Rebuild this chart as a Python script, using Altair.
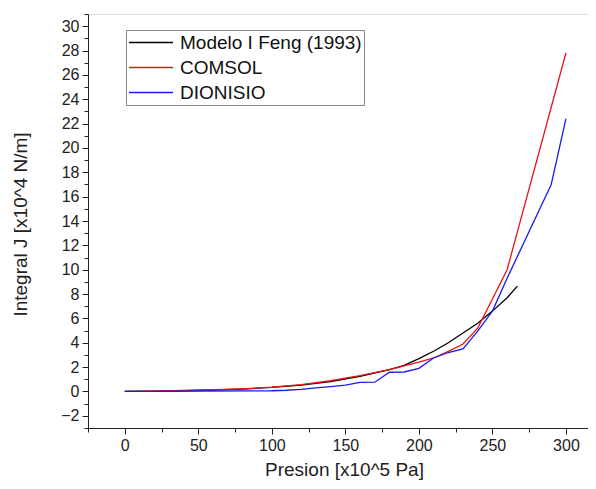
import altair as alt
import pandas as pd

series_names = ["Modelo I Feng (1993)", "COMSOL", "DIONISIO"]
series_colors = ["#000000", "#e8141c", "#1c1ce8"]

feng_x = [0, 20, 40, 60, 80, 100, 120, 140, 160, 180, 190, 200, 210, 220, 230, 240, 250, 260, 267]
feng_y = [0, 0.02, 0.06, 0.12, 0.2, 0.33, 0.52, 0.82, 1.25, 1.8, 2.15, 2.7, 3.3, 4.0, 4.8, 5.6, 6.6, 7.7, 8.65]

comsol_x = [0, 20, 40, 60, 80, 100, 120, 140, 160, 180, 190, 200, 210, 220, 230, 240, 250, 260, 300]
comsol_y = [0, 0.03, 0.08, 0.14, 0.22, 0.35, 0.56, 0.88, 1.3, 1.8, 2.1, 2.4, 2.75, 3.3, 3.9, 5.2, 7.6, 10.0, 27.8]

dion_x = [0, 20, 50, 100, 110, 120, 130, 140, 150, 160, 170, 180, 190, 200, 210, 220, 230, 240, 250, 260, 290, 300]
dion_y = [0, 0.0, 0.04, 0.06, 0.1, 0.18, 0.3, 0.4, 0.52, 0.75, 0.76, 1.58, 1.6, 1.9, 2.75, 3.2, 3.5, 4.95, 6.6, 9.3, 17.0, 22.4]

x_major = [0, 50, 100, 150, 200, 250, 300]
x_minor = [-25, 25, 75, 125, 175, 225, 275]
y_major = list(range(-2, 31, 2))
y_minor = list(range(-3, 32, 2))

rows = []
for name, xs, ys in [(series_names[0], feng_x, feng_y), (series_names[1], comsol_x, comsol_y), (series_names[2], dion_x, dion_y)]:
    for i, (a, b) in enumerate(zip(xs, ys)):
        rows.append({"serie": name, "p": a, "j": b, "order": i})
df = pd.DataFrame(rows)

FONT = "Liberation Sans"
INK = "#222222"
xscale = alt.Scale(domain=[-25, 315], nice=False, zero=False)
yscale = alt.Scale(domain=[-3, 31], nice=False, zero=False)

main = alt.Chart(df).mark_line(strokeWidth=1.3, clip=True).encode(
    x=alt.X("p:Q", scale=xscale, axis=alt.Axis(
        orient="bottom", values=x_major, title="Presion [x10^5 Pa]", grid=False,
        tickSize=6, tickColor=INK, domainColor=INK, labelFontSize=16, titleFontSize=19,
        labelFont=FONT, titleFont=FONT, titleFontWeight="normal", labelColor=INK, titleColor=INK,
        labelPadding=3, titlePadding=7, titleX=256)),
    y=alt.Y("j:Q", scale=yscale, axis=alt.Axis(
        orient="left", values=y_major, title="Integral J [x10^4 N/m]", grid=False,
        tickSize=6, tickColor=INK, domainColor=INK, labelFontSize=16, titleFontSize=19,
        labelFont=FONT, titleFont=FONT, titleFontWeight="normal", labelColor=INK, titleColor=INK,
        labelPadding=3, titlePadding=30, titleY=210)),
    color=alt.Color("serie:N", sort=series_names,
                    scale=alt.Scale(domain=series_names, range=series_colors),
                    legend=alt.Legend(title=None, orient="none", legendX=38, legendY=16,
                                      symbolType="stroke", symbolSize=1936, symbolStrokeWidth=1.5,
                                      labelFont=FONT, labelFontSize=19, labelColor="#111",
                                      labelLimit=400, clipHeight=21, rowPadding=4,
                                      strokeColor="#888", padding=2, labelOffset=6,
                                      symbolOffset=0, fillColor="white")),
    order="order:Q",
)

minor = alt.Chart(df).mark_point(opacity=0).encode(
    x=alt.X("p:Q", scale=xscale, axis=alt.Axis(
        orient="bottom", values=x_minor, labels=False, title=None, grid=False, domain=False,
        tickSize=4, tickColor=INK)),
    y=alt.Y("j:Q", scale=yscale, axis=alt.Axis(
        orient="left", values=y_minor, labels=False, title=None, grid=False, domain=False,
        tickSize=4, tickColor=INK)),
)

chart = alt.layer(main, minor).resolve_axis(x="independent", y="independent").properties(
    width=500, height=414,
    autosize=alt.AutoSizeParams(type="none"),
    padding={"left": 80, "top": 6, "right": 0, "bottom": 53},
).configure_view(stroke=None).configure(background="white")

chart.save("out.html", embed_options={"renderer": "svg", "actions": False})
